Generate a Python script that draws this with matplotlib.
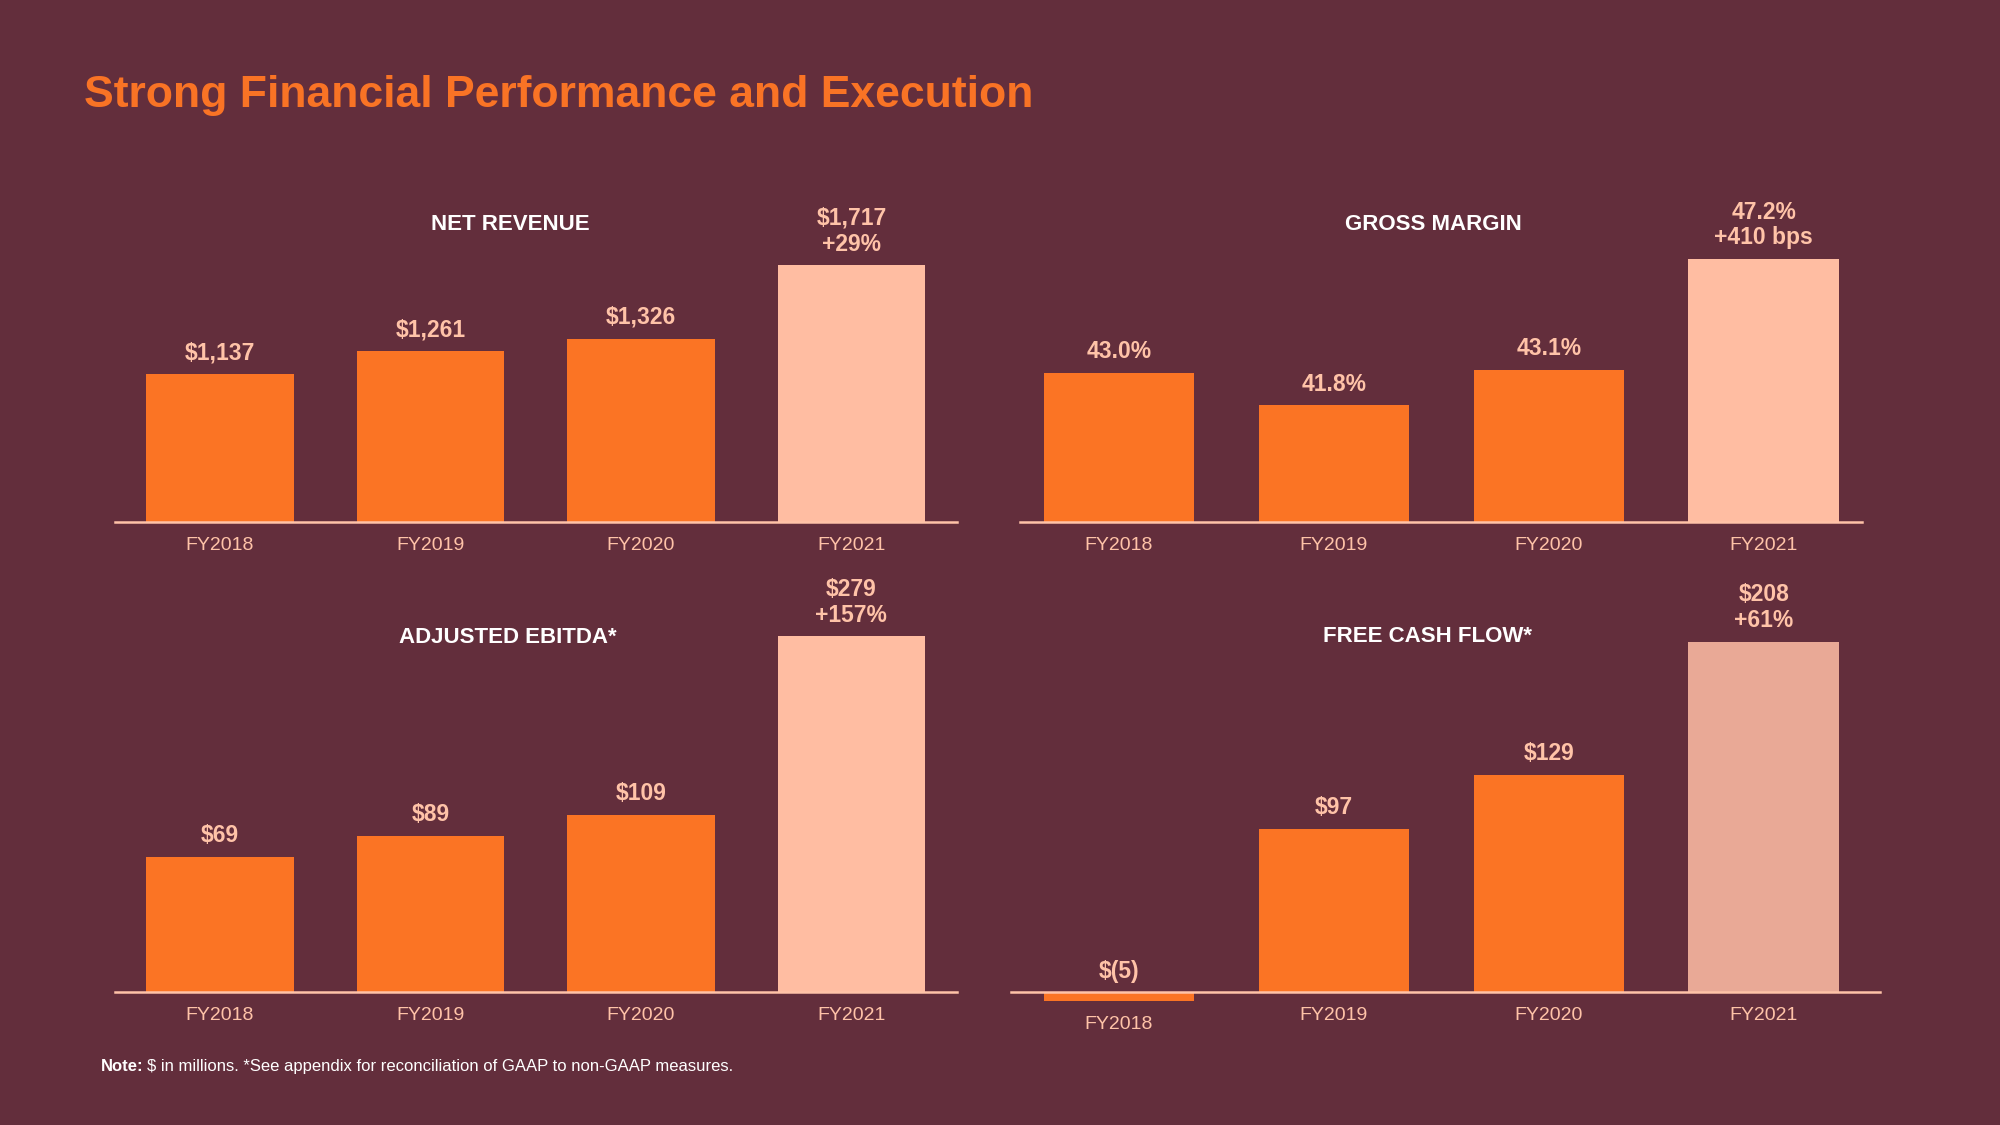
import matplotlib
matplotlib.use("Agg")
import matplotlib.pyplot as plt

plt.rcParams['font.family'] = ['Liberation Sans', 'DejaVu Sans']

BG = '#632E3C'
ORANGE = '#FB7424'
PEACH = '#FFBDA2'
PEACH_FCF = '#E9A996'
LABEL = '#FFC3A8'

years = ['FY2018', 'FY2019', 'FY2020', 'FY2021']

net_revenue = [1137, 1261, 1326, 1717]
net_revenue_labels = ['$1,137', '$1,261', '$1,326', '$1,717\n+29%']

gross_margin = [43.0, 41.8, 43.1, 47.2]
gross_margin_labels = ['43.0%', '41.8%', '43.1%', '47.2%\n+410 bps']

ebitda = [69, 89, 109, 279]
ebitda_labels = ['$69', '$89', '$109', '$279\n+157%']

fcf = [-5, 97, 129, 208]
fcf_labels = ['$(5)', '$97', '$129', '$208\n+61%']

W, H = 2000, 1125
S = W / 1568.0

fig = plt.figure(figsize=(20, 11.25), dpi=100)
fig.patch.set_facecolor(BG)


def make_axes(left, right, top, bottom):
    # coordinates in the 1568 px wide preview, converted to figure fractions
    l, r, t, b = left * S, right * S, top * S, bottom * S
    ax = fig.add_axes([l / W, 1 - b / H, (r - l) / W, (b - t) / H])
    ax.set_facecolor('none')
    ax.axis('off')
    return ax


def panel(ax, title, values, labels, ylim, base, last_color, title_xy,
          line=(0, 1)):
    x = range(len(values))
    colors = [ORANGE] * (len(values) - 1) + [last_color]
    ax.bar(x, [v - base for v in values], bottom=base, width=0.70,
           color=colors, zorder=2)
    ax.set_xlim(-0.5, len(values) - 0.5)
    ax.set_ylim(*ylim)
    ax.axhline(base, xmin=line[0], xmax=line[1], color=LABEL, lw=1.8,
               zorder=3, clip_on=False)
    for i, (v, lab) in enumerate(zip(values, labels)):
        top = max(v, base)
        ax.annotate(lab, (i, top), xytext=(0, 7), textcoords='offset points',
                    ha='center', va='bottom', fontsize=16.5, fontweight='bold',
                    color=LABEL, linespacing=1.15)
        ax.annotate(years[i], (i, min(v, base)), xytext=(0, -17),
                    textcoords='offset points', ha='center', va='center',
                    fontsize=14, color=LABEL)
    fig.text(title_xy[0] * S / W, 1 - title_xy[1] * S / H, title,
             ha='center', va='center', fontsize=16, fontweight='bold',
             color='white')


ax1 = make_axes(90, 750, 150, 409)
panel(ax1, 'NET REVENUE', net_revenue, net_revenue_labels,
      (350, 2112), 350, PEACH, (400, 176))

ax2 = make_axes(793, 1467, 150, 409)
panel(ax2, 'GROSS MARGIN', gross_margin, gross_margin_labels,
      (37.5, 49.7), 37.5, PEACH, (1124, 176), line=(0.0104, 0.9896))

ax3 = make_axes(90, 750, 470, 778)
panel(ax3, 'ADJUSTED EBITDA*', ebitda, ebitda_labels,
      (-60, 314), -60, PEACH, (398, 500))

ax4 = make_axes(793, 1467, 470, 800)
panel(ax4, 'FREE CASH FLOW*', fcf, fcf_labels,
      (-16.7, 233), 0, PEACH_FCF, (1119, 499), line=(0, 1.0104))

fig.text(66 * S / W, 1 - 75 * S / H, 'Strong Financial Performance and Execution',
         ha='left', va='center', fontsize=32, fontweight='bold', color='#F97325')

note = fig.text(79 * S / W, 1 - 836 * S / H, 'Note:', ha='left', va='center',
                fontsize=12, fontweight='bold', color='white')
r = fig.canvas.get_renderer()
bb = note.get_window_extent(renderer=r)
fig.text(bb.x1 / W + 0.002, 1 - 836 * S / H,
         '$ in millions. *See appendix for reconciliation of GAAP to non-GAAP measures.',
         ha='left', va='center', fontsize=12, color='white')

fig.savefig('out.png', dpi=100, facecolor=BG)
